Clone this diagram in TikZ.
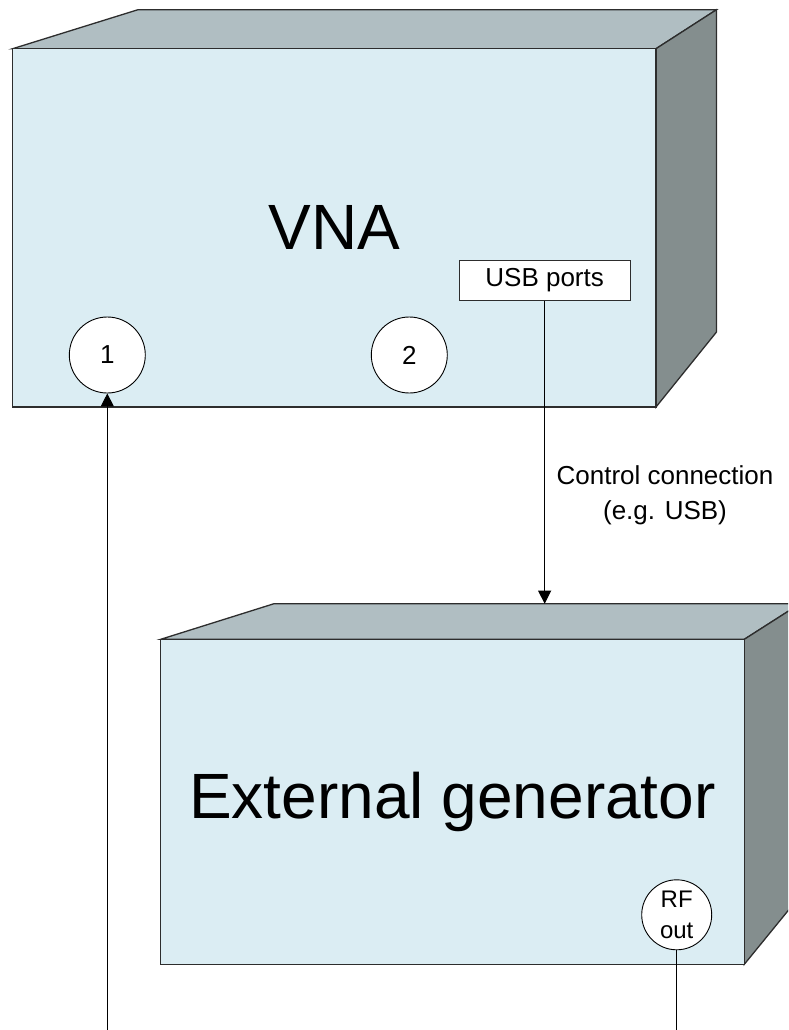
\documentclass[tikz,border=0pt]{standalone}
\usepackage{fontspec}
\setmainfont{Liberation Sans}
\usetikzlibrary{arrows.meta}
\definecolor{frontc}{RGB}{219,237,243}
\definecolor{topc}{RGB}{176,190,194}
\definecolor{sidec}{RGB}{132,142,142}
\definecolor{edgec}{RGB}{45,45,45}
\tikzset{
  face/.style={draw=edgec, line width=1.3pt, line join=miter},
  frontface/.style={face, fill=frontc, rectangle, inner sep=0pt},
  port/.style={circle, draw=black, fill=white, line width=0.9pt, inner sep=0pt, minimum size=76pt, font=\fontsize{26}{30}\selectfont},
  rfport/.style={circle, draw=black, fill=white, line width=0.9pt, inner sep=0pt, minimum size=70pt, align=center, font=\fontsize{24}{31.7}\selectfont},
  usbbox/.style={rectangle, draw=edgec, fill=white, line width=1pt, inner sep=0pt, minimum width=170.7pt, minimum height=40.4pt, font=\fontsize{26}{30}\selectfont},
  bigtext/.style={font=\fontsize{64}{77}\selectfont},
  conn/.style={draw=black, line width=0.9pt},
  tip/.style={-{Triangle[length=13pt,width=13pt]}},
  lbl/.style={align=center, font=\fontsize{26}{34.7}\selectfont}
}
\begin{document}
\begin{tikzpicture}[x=1pt,y=-1pt]
\useasboundingbox (0,0) rectangle (788,1030);
\clip (0,0) rectangle (788,1030);
% VNA box
\filldraw[face, fill=topc] (12.7,48.7) -- (138,9.7) -- (716.5,9.7) -- (656,48.7) -- cycle;
\filldraw[face, fill=sidec] (656,48.7) -- (716.5,9.7) -- (716.5,332) -- (656,407) -- cycle;
\node[frontface, minimum width=643.3pt, minimum height=358.3pt, bigtext] (vna) at (334.35,227.85) {VNA};
% Generator box
\filldraw[face, fill=topc] (160.7,639.3) -- (274,603.7) -- (800,603.7) -- (744.3,639.3) -- cycle;
\filldraw[face, fill=sidec] (744.3,639.3) -- (800,603.7) -- (800,896) -- (744.3,964.3) -- cycle;
\node[frontface, minimum width=583.6pt, minimum height=325pt, bigtext] (gen) at (452.5,801.8) {External generator};
% ports
\node[port] (p1) at (107.3,355) {1};
\node[port] (p2) at (409.3,355) {2};
\node[usbbox] (usb) at (544.65,280.5) {USB ports};
\node[rfport] (rf) at (676.7,914.8) {RF\\out};
% free ends
\coordinate (gentop) at (544.65,603.7);
\coordinate (b1) at (107.3,1030);
\coordinate (b2) at (676.7,1030);
% connectors
\draw[conn, tip] (usb.south) -- (gentop);
\draw[conn, tip] (b1) -- (p1.south);
\draw[conn] (rf.south) -- (b2);
\node[lbl] (cl) at (665,495.5) {Control connection\\(e.g. USB)};
\end{tikzpicture}
\end{document}
